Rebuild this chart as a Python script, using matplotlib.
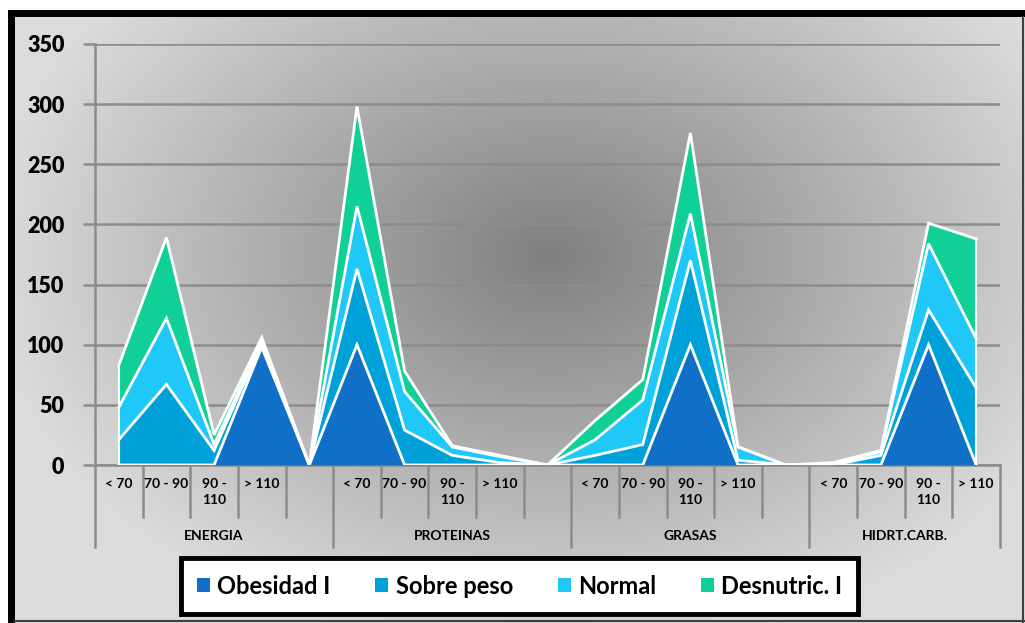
import numpy as np
import matplotlib.pyplot as plt
from matplotlib.patches import Patch, Rectangle

# categories (the 5th slot in each group is an empty spacer)
groups = ["ENERGIA", "PROTEINAS", "GRASAS", "HIDRT.CARB."]
group_sizes = [5, 5, 5, 4]
cat_labels = ["< 70", "70 - 90", "90 -\n110", "> 110", "",
              "< 70", "70 - 90", "90 -\n110", "> 110", "",
              "< 70", "70 - 90", "90 -\n110", "> 110", "",
              "< 70", "70 - 90", "90 -\n110", "> 110"]

series_names = ["Obesidad I", "Sobre peso", "Normal", "Desnutric. I"]
obesidad = [0, 0, 0, 98, 0, 100, 0, 0, 0, 0, 0, 0, 100, 0, 0, 0, 0, 100, 0]
sobre_peso = [21, 67, 12, 3, 0, 63, 29, 8, 2, 0, 8, 17, 70, 4, 0, 0, 8, 29, 64]
normal = [27, 55, 5, 2, 0, 52, 32, 7, 5, 0, 13, 37, 39, 11, 0, 1, 3, 55, 41]
desnutric = [35, 67, 8, 3, 0, 83, 17, 1, 1, 0, 16, 17, 67, 0, 0, 1, 1, 17, 83]
colors = ["#1070C8", "#00A0D8", "#20C8F8", "#10D098"]

W, H = 1025, 623
FONT = "Lato"
GRID = "#8C8C8C"

fig = plt.figure(figsize=(W / 100, H / 100), dpi=100)

# background: radial grey gradient inside a framed box
bg = fig.add_axes([0, 0, 1, 1], zorder=-10)
bg.set_xlim(0, W)
bg.set_ylim(H, 0)
bg.axis("off")
yy, xx = np.mgrid[0:H, 0:W]
t = np.sqrt(((xx - 550) / 560.0) ** 2 + ((yy - 255) / 400.0) ** 2)
g = 0.50 + 0.36 * np.clip(t, 0, 1)
img = np.dstack([g, g, g])
img[:10, :, :] = 1.0
img[:, :8, :] = 1.0
bg.imshow(img, extent=(0, W, H, 0), aspect="auto", interpolation="bilinear")
bg.add_patch(Rectangle((8, 10), W - 8, 7, color="black", lw=0))
bg.add_patch(Rectangle((8, 10), 7, H - 10, color="black", lw=0))
bg.plot([1023, 1023], [17, 622], color="#404040", lw=1.5)
bg.plot([15, 1024], [621, 621], color="#404040", lw=1.5)

# plot area
x0, x1, ytop, ybot = 95, 1000, 44, 465
ax = fig.add_axes([x0 / W, 1 - ybot / H, (x1 - x0) / W, (ybot - ytop) / H])
ax.set_facecolor("none")
n = len(cat_labels)
x = np.arange(n) + 0.5
ax.set_xlim(0, n)
ax.set_ylim(0, 350)

stack = np.vstack([obesidad, sobre_peso, normal, desnutric]).astype(float)
cum = np.cumsum(stack, axis=0)
base = np.zeros(n)
for i in range(4):
    ax.fill_between(x, base, cum[i], color=colors[i], lw=0, zorder=3)
    base = cum[i]
for i in range(4):
    ax.plot(x, cum[i], color="white", lw=2, zorder=4, solid_joinstyle="miter")
ax.plot([x[0], x[0]], [0, cum[-1][0]], color="white", lw=1.5, zorder=4)
ax.plot([x[-1], x[-1]], [0, cum[-1][-1]], color="white", lw=1.5, zorder=4)

ax.set_yticks(range(0, 351, 50))
ax.yaxis.grid(True, color=GRID, lw=1.8)
ax.set_axisbelow(True)
ax.tick_params(axis="y", length=9, width=1.8, color=GRID, pad=13)
for lab in ax.get_yticklabels():
    lab.set_fontfamily(FONT)
    lab.set_fontweight("heavy")
    lab.set_fontsize(15.5)
ax.set_xticks([])
for s in ["top", "right"]:
    ax.spines[s].set_visible(False)
ax.spines["left"].set_color(GRID)
ax.spines["left"].set_linewidth(1.8)
ax.spines["bottom"].set_color(GRID)
ax.spines["bottom"].set_linewidth(1.8)

# multi-level category axis
tr = ax.get_xaxis_transform()
px = 1.0 / (ybot - ytop)
short_y = -(517 - 465) * px
long_y = -(547 - 465) * px
bounds = np.cumsum([0] + group_sizes)
for k in range(n + 1):
    yb = long_y if k in bounds else short_y
    ax.plot([k, k], [0, yb], transform=tr, color=GRID, lw=1.8, clip_on=False)
for i, lab in enumerate(cat_labels):
    ax.text(x[i], -(478 - 465) * px, lab, transform=tr, ha="center", va="top",
            fontsize=10, fontweight="bold", family=FONT, linespacing=1.35)
for gi, name in enumerate(groups):
    cx = (bounds[gi] + bounds[gi + 1]) / 2
    ax.text(cx, -(536 - 465) * px, name, transform=tr, ha="center", va="center",
            fontsize=10, fontweight="bold", family=FONT)

handles = [Patch(facecolor=c, edgecolor="none") for c in colors]
leg = fig.legend(handles, series_names, loc="center", ncol=4,
                 bbox_to_anchor=(519.5 / W, 1 - 586 / H),
                 prop={"family": FONT, "weight": "bold", "size": 17},
                 frameon=True, fancybox=False, edgecolor="black",
                 handlelength=0.55, handleheight=0.55, handletextpad=0.3,
                 columnspacing=1.9, borderpad=0.7, borderaxespad=0)
leg.get_frame().set_linewidth(3.5)
leg.get_frame().set_facecolor("white")
leg.get_frame().set_alpha(1)

fig.savefig("out.png", dpi=100)
